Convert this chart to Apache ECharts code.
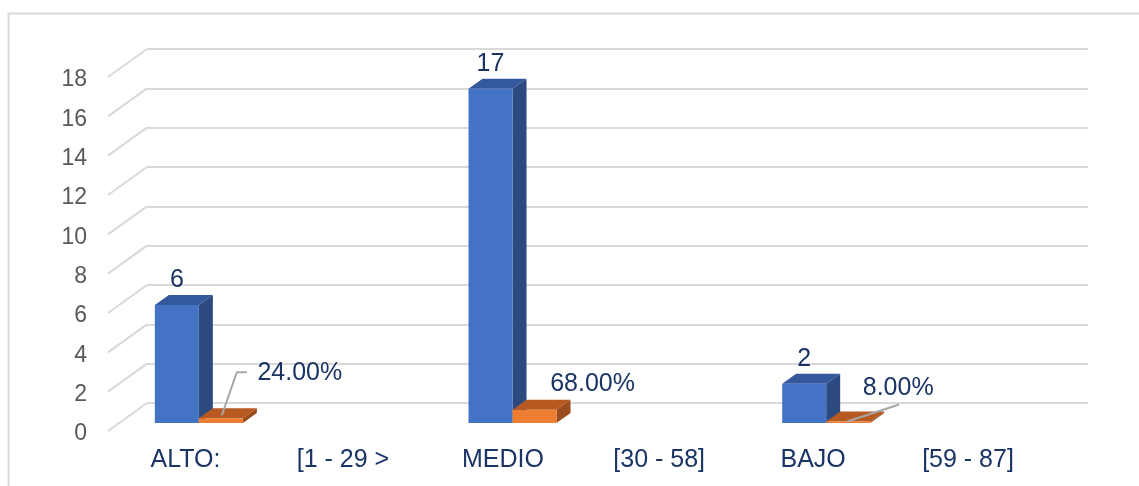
<!DOCTYPE html>
<html>
<head>
<meta charset="utf-8">
<script src="https://cdn.jsdelivr.net/npm/echarts@6/dist/echarts.min.js"></script>
<style>
html,body{margin:0;padding:0;background:#fff;}
#chart{width:1139px;height:486px;}
</style>
</head>
<body>
<div id="chart"></div>
<script>
// ---- data ----
const categories = ['ALTO:           [1 - 29 >', 'MEDIO          [30 - 58]', 'BAJO           [59 - 87]'];
const counts = [6, 17, 2];
const shares = [0.24, 0.68, 0.08];
const yTicks = [0, 2, 4, 6, 8, 10, 12, 14, 16, 18];

// ---- layout / style (not data) ----
const FONT = '"Liberation Sans", Arial, sans-serif';
const NAVY = '#1A3466';
const DEPTH_X = 39, DEPTH_Y = 28;      // wall depth
const BAR_DX = 14, BAR_DY = 10;        // bar depth
const BAR_OFF = -0.3666, BAR_W = 0.1403; // fractions of band
// pixel offsets of percentage labels from top-center of orange bar, and leader lines
const pctLayout = [
  {dx: 79, dy: -45, leader: [[1, -3], [16, -46], [26, -46]]},
  {dx: 58, dy: -26, leader: null},
  {dx: 50, dy: -33, leader: [[-1, 0], [51, -17]]}
];

const chart = echarts.init(document.getElementById('chart'), null, {renderer: 'canvas'});

function box(x, yTop, yBot, w, cFront, cTop, cSide) {
  return [
    {type: 'polygon', shape: {points: [[x + w, yTop], [x + w + BAR_DX, yTop - BAR_DY], [x + w + BAR_DX, yBot - BAR_DY], [x + w, yBot]]}, style: {fill: cSide}},
    {type: 'polygon', shape: {points: [[x, yTop], [x + BAR_DX, yTop - BAR_DY], [x + w + BAR_DX, yTop - BAR_DY], [x + w, yTop]]}, style: {fill: cTop}},
    {type: 'rect', shape: {x: x, y: yTop, width: w, height: yBot - yTop}, style: {fill: cFront}}
  ];
}

const option = {
  backgroundColor: '#ffffff',
  animation: false,
  textStyle: {fontFamily: FONT},
  graphic: [{
    type: 'polyline',
    shape: {points: [[8.5, 486], [8.5, 13.5], [1139, 13.5]]},
    style: {stroke: '#d9d9d9', lineWidth: 2, fill: null}
  }],
  grid: [
    {left: 147, top: 49, width: 941, height: 354},
    {left: 108, top: 80, width: 941, height: 354},
    {left: 113, top: 69, width: 941, height: 354}
  ],
  xAxis: [
    {type: 'category', gridIndex: 0, data: categories, show: false},
    {type: 'category', gridIndex: 1, data: categories, show: false},
    {type: 'category', gridIndex: 2, data: categories,
     axisLine: {show: false}, axisTick: {show: false},
     axisLabel: {interval: 0, hideOverlap: false, margin: 25, fontSize: 25, color: NAVY, fontFamily: FONT}}
  ],
  yAxis: [
    {type: 'value', gridIndex: 0, min: 0, max: 18, interval: 2,
     axisLabel: {show: false}, axisLine: {show: false}, axisTick: {show: false},
     splitLine: {show: true, lineStyle: {color: '#d9d9d9', width: 2}}},
    {type: 'value', gridIndex: 1, min: 0, max: 18, interval: 2,
     axisLine: {show: false}, axisTick: {show: false}, splitLine: {show: false},
     axisLabel: {margin: 21, fontSize: 23, color: '#595959', fontFamily: FONT}},
    {type: 'value', gridIndex: 2, min: 0, max: 18, interval: 2, show: false}
  ],
  series: [
    {
      type: 'custom', xAxisIndex: 0, yAxisIndex: 0, silent: true,
      data: yTicks.map(v => [0, v]),
      renderItem: function (params, api) {
        const p = api.coord([0, api.value(1)]);
        const x0 = params.coordSys.x;
        return {type: 'line', shape: {x1: x0 - DEPTH_X, y1: p[1] + DEPTH_Y, x2: x0, y2: p[1]},
                style: {stroke: '#d9d9d9', lineWidth: 2}};
      }
    },
    {
      type: 'custom', name: 'Frecuencia', xAxisIndex: 2, yAxisIndex: 2,
      data: counts.map((v, i) => [i, v]),
      renderItem: function (params, api) {
        const i = api.value(0), v = api.value(1);
        const c = api.coord([i, v]), z = api.coord([i, 0]);
        const band = api.size([1, 0])[0];
        const w = band * BAR_W;
        const x = c[0] + band * BAR_OFF;
        const kids = box(x, c[1], z[1], w, '#4472C4', '#34589C', '#2C4A80');
        kids.push({type: 'text', style: {text: String(v), x: x + w / 2, y: c[1] - 25,
          align: 'center', verticalAlign: 'middle', fill: NAVY, fontSize: 25, fontFamily: FONT}});
        return {type: 'group', children: kids};
      }
    },
    {
      type: 'custom', name: 'Porcentaje', xAxisIndex: 2, yAxisIndex: 2,
      data: shares.map((v, i) => [i, v]),
      renderItem: function (params, api) {
        const i = api.value(0), v = api.value(1);
        const c = api.coord([i, v]), z = api.coord([i, 0]);
        const band = api.size([1, 0])[0];
        const w = band * BAR_W;
        const x = c[0] + band * BAR_OFF + w;
        const kids = box(x, c[1], z[1], w, '#ED7D31', '#B65A22', '#9C4C1C');
        const cx = x + w / 2, cy = c[1];
        const L = pctLayout[i];
        if (L.leader) {
          kids.push({type: 'polyline', shape: {points: L.leader.map(p => [cx + p[0], cy + p[1]])},
            style: {stroke: '#a6a6a6', lineWidth: 2, fill: null}});
        }
        kids.push({type: 'text', style: {text: (v * 100).toFixed(2) + '%', x: cx + L.dx, y: cy + L.dy,
          align: 'center', verticalAlign: 'middle', fill: NAVY, fontSize: 25, fontFamily: FONT}});
        return {type: 'group', children: kids};
      }
    }
  ]
};
chart.setOption(option);
</script>
</body>
</html>
